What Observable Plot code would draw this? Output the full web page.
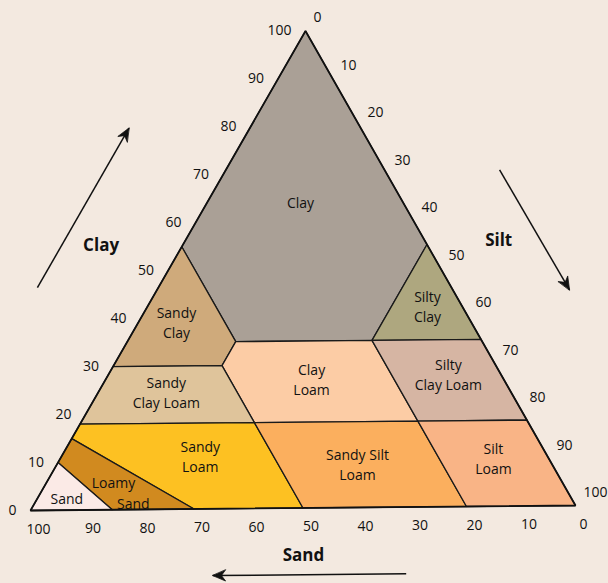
<!DOCTYPE html>
<html>
<head>
<meta charset="utf-8">
<script src="https://cdn.jsdelivr.net/npm/d3@7"></script>
<script src="https://cdn.jsdelivr.net/npm/@observablehq/plot@0.6"></script>
<style>
  html, body { margin: 0; padding: 0; background: #f3e9e0; }
  #chart svg { display: block; }
</style>
</head>
<body>
<div id="chart"></div>
<script>
// ---------- DATA (percent: [sand, silt, clay]) ----------
const classNames = ["Clay", "Sandy Clay", "Silty Clay", "Clay Loam", "Silty Clay Loam",
  "Sandy Clay Loam", "Sandy Loam", "Sandy Silt Loam", "Silt Loam", "Loamy Sand", "Sand"];

const clayPoly          = [[0,0,100],[45,0,55],[45,20,35],[20,45,35],[0,45,55]];
const sandyClayPoly     = [[45,0,55],[70,0,30],[50,20,30],[45,20,35]];
const siltyClayPoly     = [[0,45,55],[20,45,35],[0,65,35]];
const clayLoamPoly      = [[45,20,35],[50,20,30],[50,32,18],[20,62,18],[20,45,35]];
const siltyClayLoamPoly = [[20,45,35],[20,62,18],[0,82,18],[0,65,35]];
const sandyClayLoamPoly = [[70,0,30],[82,0,18],[50,32,18],[50,20,30]];
const sandyLoamPoly     = [[82,0,18],[85,0,15],[70,30,0],[50,50,0],[50,32,18]];
const sandySiltLoamPoly = [[50,32,18],[50,50,0],[20,80,0],[20,62,18]];
const siltLoamPoly      = [[20,62,18],[20,80,0],[0,100,0],[0,82,18]];
const loamySandPoly     = [[85,0,15],[90,0,10],[85,15,0],[70,30,0]];
const sandPoly          = [[90,0,10],[100,0,0],[85,15,0]];

const classPolygons = [clayPoly, sandyClayPoly, siltyClayPoly, clayLoamPoly, siltyClayLoamPoly,
  sandyClayLoamPoly, sandyLoamPoly, sandySiltLoamPoly, siltLoamPoly, loamySandPoly, sandPoly];

// label texts and their anchor (in percent, [sand, silt, clay])
const labelTexts   = ["Clay", "Sandy\nClay", "Silty\nClay", "Clay\nLoam", "Silty\nClay Loam",
  "Sandy\nClay Loam", "Sandy\nLoam", "Sandy Silt\nLoam", "Silt\nLoam", "Loamy", "Sand", "Sand"];
const labelAnchors = [[18.6,17.1,64.3],[53.7,6.9,39.4],[6.2,51.5,42.3],[35,37.9,27.1],[9.5,62.6,27.9],
  [62.9,12.5,24.6],[63.3,25.5,11.2],[35.4,55.3,9.3],[10,79.8,10.2],[81.9,12.3,5.8],[80.4,18.1,1.5],[92,5.3,2.7]];

const tickValues = [0, 10, 20, 30, 40, 50, 60, 70, 80, 90, 100];
const axisNames = ["Clay", "Silt", "Sand"];

// ---------- STYLE ----------
const palette = ["#aaa096", "#cfaa7b", "#aea77f", "#fccca5", "#d6b5a3",
  "#dfc49b", "#fdc122", "#fbaf5e", "#f9b486", "#d18a1f", "#fbeae6"];

// ---------- ternary -> plane projection (slightly rotated like the original) ----------
const H = Math.sqrt(3) / 2;
const toX = (silt, clay) => silt + 0.5046 * clay;
const toY = (silt, clay) => (clay + 0.0104 * silt) * H;

// polygons as rows
const polyRows = classPolygons.map((poly, i) =>
  poly.map(([sand, silt, clay]) => ({name: classNames[i], x: toX(silt, clay), y: toY(silt, clay)})));

const outline = [[100,0,0],[0,100,0],[0,0,100]].map(([s, si, c]) => ({x: toX(si, c), y: toY(si, c)}));

const labelRows = labelTexts.map((t, i) => ({text: t, x: toX(labelAnchors[i][1], labelAnchors[i][2]), y: toY(labelAnchors[i][1], labelAnchors[i][2])}));

// direction arrows (percent coordinates outside the triangle)
const arrowDefs = [
  {from: [-22.3, 46.7], to: [-22.3, 80.0]},   // clay increases upward (silt, clay)
  {from: [50.5, 70.5], to: [76.1, 45.2]},     // silt increases downward
  {from: [76.0, -14.0], to: [40.5, -14.0]}    // sand increases leftward
];
const arrowRows = arrowDefs.map(a => ({
  x1: toX(a.from[0], a.from[1]), y1: toY(a.from[0], a.from[1]),
  x2: toX(a.to[0], a.to[1]), y2: toY(a.to[0], a.to[1])
}));
// arrowheads (stealth shape), in plane units
const headLen = 2.35, headHalf = 1.0, headNotch = 1.6;
const headRows = arrowRows.flatMap((a, i) => {
  const dx = a.x2 - a.x1, dy = a.y2 - a.y1, L = Math.hypot(dx, dy);
  const ux = dx / L, uy = dy / L, nx = -uy, ny = ux;
  return [
    {id: i, x: a.x2, y: a.y2},
    {id: i, x: a.x2 - headLen * ux + headHalf * nx, y: a.y2 - headLen * uy + headHalf * ny},
    {id: i, x: a.x2 - headNotch * ux, y: a.y2 - headNotch * uy},
    {id: i, x: a.x2 - headLen * ux - headHalf * nx, y: a.y2 - headLen * uy - headHalf * ny}
  ];
});

const titleRows = [
  {text: axisNames[0], x: toX(-15, 55.4), y: toY(-15, 55.4)},
  {text: axisNames[1], x: toX(57.8, 55.7), y: toY(57.8, 55.7)},
  {text: axisNames[2], x: toX(55.1, -9.95), y: toY(55.1, -9.95)}
];

const polyMarks = polyRows.map((rows, i) =>
  Plot.line(rows, {x: "x", y: "y", curve: "linear-closed", fill: palette[i], stroke: "#1a1a1a", strokeWidth: 1.3, strokeLinejoin: "miter"}));

const chart = Plot.plot({
  width: 608,
  height: 583,
  marginTop: 30.5,
  marginBottom: 73,
  marginLeft: 30,
  marginRight: 33,
  x: {domain: [0, 100], axis: null},
  y: {domain: [0, 100 * H], axis: null},
  style: {background: "#f3e9e0", fontFamily: "'Open Sans', sans-serif", fontSize: "14px", color: "#111"},
  marks: [
    ...polyMarks,
    Plot.line(outline, {x: "x", y: "y", curve: "linear-closed", stroke: "#111", strokeWidth: 1.8, strokeLinejoin: "miter"}),
    Plot.text(labelRows, {x: "x", y: "y", text: "text", fontSize: 14, lineHeight: 1.43, fill: "#111"}),
    // clay ticks (left side)
    Plot.text(tickValues, {x: t => toX(0, t), y: t => toY(0, t), text: t => String(t), textAnchor: "end", dx: -14, fontSize: 14, fill: "#111"}),
    // silt ticks (right side)
    Plot.text(tickValues, {x: t => toX(t, 100 - t), y: t => toY(t, 100 - t), text: t => String(t), textAnchor: "start", dx: 8, dy: -13, fontSize: 14, fill: "#111"}),
    // sand ticks (bottom)
    Plot.text(tickValues, {x: t => toX(100 - t, 0), y: t => toY(100 - t, 0), text: t => String(t), dx: 8, dy: 19, fontSize: 14, fill: "#111"}),
    Plot.text(titleRows, {x: "x", y: "y", text: "text", fontSize: 17, fontWeight: "bold", fill: "#111"}),
    Plot.link(arrowRows, {x1: "x1", y1: "y1", x2: "x2", y2: "y2", stroke: "#111", strokeWidth: 1.5}),
    Plot.line(headRows, {x: "x", y: "y", z: "id", curve: "linear-closed", fill: "#111", stroke: "#111", strokeWidth: 0.8})
  ]
});

document.getElementById("chart").appendChild(chart);
</script>
</body>
</html>
